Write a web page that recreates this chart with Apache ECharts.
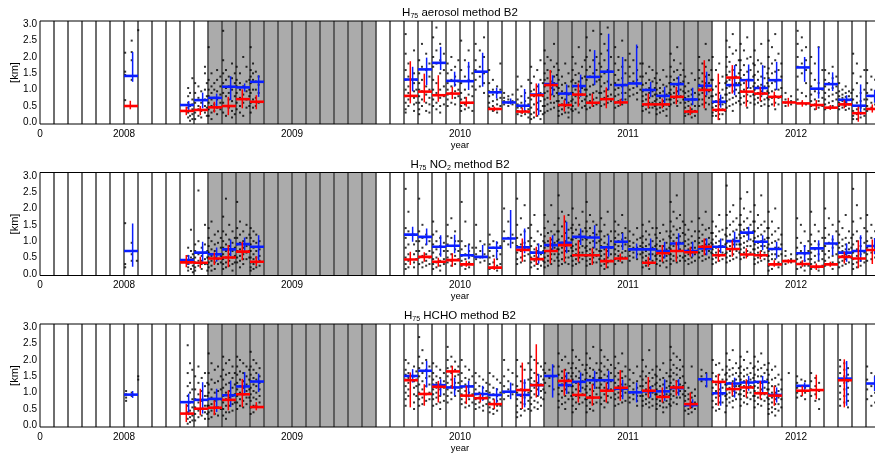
<!DOCTYPE html>
<html><head><meta charset="utf-8">
<script src="https://cdn.jsdelivr.net/npm/echarts@6/dist/echarts.min.js"></script>
<style>html,body{margin:0;padding:0;background:#fff}#c{width:875px;height:454px}</style>
</head><body><div id="c"></div>
<script>
// ---------------- data ----------------
const xTickValues = [2007.5, 2008, 2009, 2010, 2011, 2012];
const xTickLabels = ['0', '2008', '2009', '2010', '2011', '2012'];
const yTickValues = [0, 0.5, 1, 1.5, 2, 2.5, 3];
const yTickLabels = ['0.0', '0.5', '1.0', '1.5', '2.0', '2.5', '3.0'];
const shadedPeriods = [[2008.5, 2009.5], [2010.5, 2011.5]];

const aerosolMonths = ['2008-01','2008-05','2008-06','2008-07','2008-08','2008-09','2008-10',
 '2009-09','2009-10','2009-11','2009-12',
 '2010-01','2010-02','2010-03','2010-04','2010-05','2010-06','2010-07','2010-08','2010-09','2010-10','2010-11','2010-12',
 '2011-01','2011-02','2011-03','2011-04','2011-05','2011-06','2011-07','2011-08','2011-09','2011-10','2011-11','2011-12',
 '2012-01','2012-02','2012-03','2012-04','2012-05','2012-06'];
const aerosolBlueMed = [1.42,0.53,0.68,0.75,1.09,1.07,1.24, 1.31,1.62,1.82,1.27, 1.26,1.55,0.92,0.61,0.51,0.85,1.17,0.88,1.11,1.39,1.55,1.14, 1.19,0.99,0.81,1.17,0.70,1.12,0.63,1.14,1.29,1.05,1.29,null, 1.68,1.03,1.17,0.69,0.51,0.81];
const aerosolBlueLo  = [1.24,0.38,0.43,0.50,0.68,0.94,0.78, 0.95,1.14,1.60,1.09, 0.99,1.09,0.73,0.55,0.33,0.22,0.83,0.53,0.78,1.14,0.99,0.63, 1.09,0.78,0.53,0.83,0.53,0.83,0.45,0.83,1.04,0.83,0.99,null, 1.24,0.73,0.96,0.53,0.22,0.60];
const aerosolBlueHi  = [2.15,0.65,0.91,0.88,1.41,1.19,1.44, 1.70,1.98,2.31,1.55, 1.85,2.13,1.06,0.73,1.02,1.19,1.44,1.16,1.46,2.21,2.71,2.00, 2.38,1.24,1.09,1.41,1.06,1.55,0.85,1.75,1.77,1.75,1.85,null, 2.00,2.31,1.53,0.83,1.16,1.00];
const aerosolRedMed  = [0.50,0.35,0.38,0.46,0.50,0.71,0.63, 0.81,0.94,0.83,0.88, 0.60,null,0.41,null,0.33,0.83,1.14,0.53,0.85,0.60,0.71,0.61, null,0.55,0.55,0.78,0.33,0.99,0.38,1.37,0.94,0.88,0.78,0.61, 0.58,0.53,0.45,0.55,0.28,0.41];
const aerosolRedLo   = [0.40,0.22,0.22,0.30,0.22,0.43,0.40, 0.58,0.61,0.63,0.71, 0.48,null,0.34,null,0.26,0.17,0.68,0.33,0.48,0.48,0.43,0.50, null,0.43,0.43,0.55,0.22,0.43,0.07,0.88,0.48,0.65,0.48,0.48, 0.48,0.38,0.38,0.43,0.02,0.30];
const aerosolRedHi   = [0.66,0.48,0.50,0.63,0.78,1.01,0.83, 1.87,1.49,1.44,1.09, 0.78,null,0.48,null,0.45,1.19,1.60,0.68,1.19,0.88,1.07,0.72, null,0.88,0.73,1.09,0.48,1.90,1.49,1.75,1.29,1.09,0.94,0.75, 0.68,0.68,0.53,0.68,0.48,0.55];

const no2Months = aerosolMonths.slice();
const no2BlueMed = [0.70,0.42,0.65,0.60,0.75,0.91,0.83, 1.20,1.13,0.83,0.86, 0.57,0.52,0.80,1.08,0.81,0.65,0.88,0.95,1.13,1.11,0.81,0.98, 0.75,0.75,0.70,0.93,0.70,0.78,0.83,1.00,1.26,0.98,0.76,null, 0.63,0.78,0.93,0.65,0.70,0.85];
const no2BlueLo  = [0.22,0.27,0.37,0.37,0.54,0.68,0.42, 0.98,0.88,0.52,0.63, 0.45,0.47,0.47,0.78,0.63,0.32,0.68,0.63,0.88,0.78,0.52,0.73, 0.47,0.42,0.47,0.68,0.52,0.57,0.63,0.78,1.03,0.73,0.47,null, 0.37,0.42,0.57,0.37,0.37,0.60];
const no2BlueHi  = [1.54,0.58,0.98,0.81,1.05,1.11,1.18, 1.44,1.39,1.18,1.20, 0.90,0.88,1.00,1.95,1.39,0.93,1.18,1.59,1.39,1.49,1.18,1.24, 0.93,1.08,0.98,1.24,0.98,1.08,1.08,1.29,1.44,1.18,0.98,null, 0.88,1.03,1.18,0.93,1.18,1.10];
const no2RedMed  = [null,0.35,0.34,0.47,0.50,0.68,0.37, 0.44,0.52,0.37,0.42, 0.29,null,0.19,null,0.73,0.45,0.70,0.88,0.57,0.57,0.39,0.47, null,0.34,0.63,0.70,0.66,0.83,0.57,0.76,0.59,0.57,0.29,0.39, 0.30,0.22,0.29,0.52,0.47,0.73];
const no2RedLo   = [null,0.20,0.17,0.27,0.20,0.42,0.24, 0.27,0.37,0.22,0.22, 0.22,null,0.12,null,0.37,0.27,0.32,0.37,0.37,0.27,0.17,0.37, null,0.22,0.37,0.37,0.52,0.57,0.37,0.52,0.47,0.45,0.22,0.32, 0.22,0.12,0.22,0.32,0.17,0.30];
const no2RedHi   = [null,0.58,0.52,0.65,0.88,0.98,0.54, 0.68,0.66,0.49,0.63, 0.40,null,0.47,null,1.08,0.83,1.13,1.79,1.03,0.78,0.78,0.62, null,0.52,0.88,0.98,0.83,1.08,0.78,1.03,0.78,0.71,0.42,0.45, 0.42,0.32,0.37,0.68,1.03,1.05];

const hchoMonths = ['2008-01','2008-05','2008-06','2008-07','2008-08','2008-09','2008-10',
 '2009-09','2009-10','2009-11','2009-12',
 '2010-01','2010-02','2010-03','2010-04','2010-05','2010-06','2010-07','2010-08','2010-09','2010-10','2010-11','2010-12',
 '2011-01','2011-02','2011-03','2011-04','2011-05','2011-06','2011-07','2011-08','2011-09','2011-10','2011-11',
 '2012-01','2012-02','2012-04','2012-06'];
const hchoBlueMed = [0.94,0.71,0.78,0.81,0.92,1.19,1.34, 1.51,1.67,1.23,1.16, 1.19,0.96,0.93,1.03,0.93,1.23,1.51,1.23,1.33,1.38,1.38,1.12, 1.01,1.04,1.04,1.14,0.62,1.41,0.98,1.28,1.31,1.33,0.93, 1.21,null,1.43,1.28];
const hchoBlueLo  = [0.84,0.31,0.36,0.41,0.56,0.92,1.02, 1.31,1.16,0.91,0.91, 0.85,0.75,0.67,0.80,0.55,0.91,0.85,0.96,1.01,1.11,1.06,0.80, 0.70,0.85,0.75,0.91,0.55,1.16,0.60,0.85,1.06,1.01,0.70, 1.06,null,0.60,1.05];
const hchoBlueHi  = [1.05,0.97,1.32,1.12,1.37,1.63,1.58, 1.72,1.97,1.41,1.46, 1.36,1.21,1.14,1.31,1.41,1.57,1.87,1.62,1.62,1.67,1.67,1.40, 1.31,1.20,1.41,1.41,0.80,1.59,1.31,1.46,1.51,1.51,1.16, 1.31,null,1.97,1.50];
const hchoRedMed  = [null,0.36,0.51,0.54,0.78,0.95,0.56, 1.38,0.96,1.18,1.65, 0.91,0.83,0.65,null,1.08,1.23,null,1.36,0.93,0.85,1.06,1.15, null,1.06,0.87,1.16,0.65,null,1.33,1.11,1.16,0.98,0.91, 1.06,1.08,1.38,null];
const hchoRedLo   = [null,0.10,0.31,0.31,0.46,0.56,0.46, 0.55,0.60,0.70,1.11, 0.65,0.70,0.50,null,0.50,0.85,null,0.91,0.70,0.60,0.70,0.75, null,0.85,0.70,0.91,0.50,null,0.60,0.91,0.85,0.80,0.60, 0.90,0.80,0.55,null];
const hchoRedHi   = [null,0.66,1.12,0.76,1.07,1.42,0.71, 1.62,1.26,1.36,1.82, 1.21,0.96,0.80,null,1.92,2.48,null,1.72,1.31,1.26,1.31,1.69, null,1.48,1.16,1.38,1.01,null,1.57,1.31,1.41,1.36,1.21, 1.20,1.55,2.02,null];

// individual retrievals: [month, "day:values;day:values"]
const aerosolDots = [
 ['2008-01','3:2.13,1.55,1.45,0.68,0.5;17:2.5,2.15,1.9,1.3'],['2008-02','1:2.82'],
 ['2008-05','18:1.05,0.8,0.6,0.45,0.3,0.15;22:0.9,0.5,0.35,0.2,0.05;27:1.35,0.7,0.55,0.4,0.25,0.1'],
 ['2008-06','3:1.2,0.9,0.6,0.3,0.1;10:1.1,0.75,0.5,0.4,0.2;16:0.95,0.6,0.35,0.15;24:1.7,1.5,1.0,0.7,0.5,0.3;28:1.2,0.8,0.45,0.2'],
 ['2008-07','2:2.3,1.3,1.0,0.8,0.6,0.4,0.2;8:1.5,1.1,0.9,0.7,0.5,0.3,0.1;14:1.2,1.0,0.75,0.55,0.35;20:1.6,1.3,0.95,0.7,0.45,0.25;27:1.4,1.1,0.85,0.6,0.4'],
 ['2008-08','3:2.8,1.9,1.5,1.2,0.9,0.6,0.3;9:1.6,1.3,1.05,0.8,0.5,0.2;15:1.4,1.1,0.9,0.7,0.45;22:1.8,1.35,1.0,0.65,0.35,0.15;28:1.5,1.2,0.8,0.5,0.25'],
 ['2008-09','2:1.7,1.3,1.1,0.9,0.6,0.4;9:1.5,1.2,1.0,0.75,0.5,0.3;16:2.0,1.1,0.85,0.6,0.2;23:1.7,1.25,0.95,0.7,0.45;29:1.3,1.0,0.8,0.5'],
 ['2008-10','2:2.3,1.6,1.4,1.2,0.9,0.6,0.3;7:1.8,1.5,1.3,1.0,0.7,0.45;13:1.55,1.25,1.0,0.75,0.5;19:1.4,1.15,0.9,0.6'],
 ['2009-09','4:2.7,2.1,1.6,1.3,1.0,0.8,0.6,0.4,0.3;10:1.8,1.4,1.1,0.9,0.7,0.5;22:2.2,1.5,1.2,0.95,0.75,0.55,0.35;27:1.3,1.0,0.8,0.6'],
 ['2009-10','3:1.9,1.5,1.2,1.0,0.8,0.6,0.4,0.25;9:2.4,1.7,1.3,0.95,0.7,0.5;18:2.1,1.6,1.1,0.85,0.6,0.35;25:1.8,1.4,1.0,0.75,0.55,0.3'],
 ['2009-11','3:2.6,2.0,1.7,1.3,1.0,0.7,0.5;10:2.9,2.2,1.8,1.2,0.9,0.6,0.4;18:2.4,1.9,1.5,1.0,0.75,0.5,0.3;26:2.1,1.6,1.1,0.8,0.55'],
 ['2009-12','4:1.8,1.5,1.2,1.0,0.85,0.7,0.5;12:2.0,1.6,1.3,1.1,0.9,0.6;20:1.7,1.4,1.15,0.95,0.75,0.55;27:1.9,1.25,1.0,0.8'],
 ['2010-01','3:2.5,1.6,1.2,0.9,0.7,0.5,0.35;11:1.9,1.4,1.0,0.75,0.55,0.4;19:2.2,1.7,1.3,0.85,0.6,0.45;27:1.5,1.1,0.8,0.6,0.35'],
 ['2010-02','4:2.4,1.9,1.6,1.3,1.0;13:2.2,1.7,1.4,1.1;22:2.6,2.0,1.5,1.2,0.9'],
 ['2010-03','3:1.6,1.2,0.95,0.8,0.6,0.45;11:1.3,1.0,0.85,0.65,0.5,0.35;20:1.1,0.9,0.7,0.55,0.4,0.3;27:1.8,1.0,0.75,0.5'],
 ['2010-04','5:0.9,0.75,0.65,0.55;14:0.8,0.7,0.6,0.5;23:0.85,0.65,0.55'],
 ['2010-05','4:1.4,1.0,0.7,0.55,0.45,0.35,0.25;12:1.1,0.8,0.6,0.45,0.3,0.2;20:0.9,0.65,0.5,0.35,0.25;27:1.3,0.75,0.55,0.4,0.3,0.15'],
 ['2010-06','3:1.7,1.2,0.95,0.7,0.45,0.25,0.1;9:1.4,1.0,0.8,0.55,0.3,0.15;16:1.6,1.1,0.85,0.6,0.4,0.2;23:1.9,1.3,0.9,0.65,0.35,0.1;28:1.2,0.8,0.5,0.25'],
 ['2010-07','2:2.2,1.8,1.5,1.3,1.1,0.9,0.7,0.5,0.3;8:2.0,1.6,1.35,1.15,0.95,0.75,0.55,0.35;15:1.9,1.55,1.25,1.05,0.85,0.6,0.4;22:2.4,1.7,1.4,1.2,1.0,0.8,0.6,0.45;28:1.8,1.45,1.1,0.9,0.65'],
 ['2010-08','2:1.6,1.3,1.05,0.85,0.65,0.5,0.35,0.2;9:1.4,1.15,0.95,0.75,0.55,0.4,0.25;16:1.8,1.2,0.9,0.7,0.5,0.3;23:1.5,1.1,0.85,0.6,0.45,0.3,0.15;29:1.25,0.9,0.65,0.4'],
 ['2010-09','2:2.0,1.6,1.3,1.1,0.9,0.7,0.5,0.35;8:1.8,1.45,1.2,1.0,0.8,0.6,0.4;15:2.3,1.5,1.25,0.95,0.75,0.55,0.3;22:1.7,1.35,1.05,0.85,0.65,0.45;28:1.9,1.4,1.0,0.7,0.5'],
 ['2010-10','2:2.6,2.0,1.6,1.3,1.0,0.8,0.6,0.4;9:2.2,1.7,1.4,1.1,0.85,0.65,0.45;16:2.8,1.9,1.5,1.15,0.9,0.7,0.5;23:2.0,1.6,1.25,0.95,0.75,0.55;29:1.8,1.3,0.9,0.6'],
 ['2010-11','3:2.7,2.1,1.7,1.4,1.1,0.9,0.7,0.5;10:2.4,1.9,1.5,1.2,0.95,0.75,0.55;17:2.9,2.2,1.6,1.25,1.0,0.8,0.6;24:2.0,1.55,1.15,0.85,0.65'],
 ['2010-12','3:2.3,1.8,1.45,1.2,1.0,0.8,0.6,0.45;10:2.0,1.6,1.3,1.05,0.85,0.65,0.5;18:2.5,1.7,1.35,1.1,0.9,0.7,0.55;25:1.9,1.5,1.15,0.9,0.7'],
 ['2011-01','4:2.1,1.7,1.4,1.2,1.0,0.8;12:1.9,1.5,1.25,1.05,0.85;20:2.3,1.6,1.3,1.1,0.9,0.7;27:1.8,1.4,1.0'],
 ['2011-02','2:1.8,1.4,1.15,0.95,0.8,0.65,0.5,0.35;9:1.5,1.2,1.0,0.85,0.7,0.55,0.4;16:1.7,1.3,1.05,0.9,0.75,0.6,0.45,0.3;23:1.6,1.25,0.95,0.8,0.6,0.45;28:1.35,1.05,0.85,0.65,0.5'],
 ['2011-03','2:1.5,1.2,1.0,0.85,0.7,0.55,0.4,0.25;9:1.3,1.05,0.9,0.75,0.6,0.45,0.3;16:1.6,1.15,0.95,0.8,0.65,0.5,0.35;23:1.4,1.1,0.85,0.7,0.55,0.4,0.2;29:1.2,0.9,0.7,0.5'],
 ['2011-04','2:2.1,1.7,1.4,1.2,1.0,0.85,0.7,0.55;9:1.9,1.55,1.3,1.1,0.9,0.75,0.6;16:2.3,1.6,1.35,1.15,0.95,0.8,0.65,0.5;23:1.8,1.45,1.2,1.0,0.8,0.6;29:1.6,1.25,0.95,0.7'],
 ['2011-05','3:1.4,1.1,0.9,0.75,0.6,0.45,0.3,0.2;10:1.2,0.95,0.8,0.65,0.5,0.35,0.25;17:1.5,1.0,0.85,0.7,0.55,0.4,0.3,0.15;24:1.3,0.9,0.7,0.5,0.35,0.2'],
 ['2011-06','3:2.0,1.6,1.35,1.15,1.0,0.85,0.7,0.5;10:1.8,1.5,1.25,1.05,0.9,0.7,0.55;17:2.4,1.7,1.4,1.2,1.0,0.8,0.6,0.4;24:1.9,1.45,1.2,0.95,0.75,0.55;29:1.6,1.3,1.0,0.8'],
 ['2011-07','2:2.0,1.3,1.0,0.8,0.6,0.45,0.3,0.2;9:1.6,1.1,0.85,0.65,0.5,0.35,0.2;16:1.8,1.2,0.9,0.7,0.55,0.4,0.25,0.1;23:1.4,1.0,0.75,0.55,0.4,0.25;29:1.2,0.85,0.6,0.35'],
 ['2011-08','2:2.5,2.0,1.7,1.45,1.25,1.05,0.85,0.65,0.45;8:2.3,1.85,1.55,1.3,1.1,0.9,0.7,0.5;15:2.7,2.1,1.6,1.35,1.15,0.95,0.75,0.55,0.35;22:2.2,1.75,1.4,1.2,1.0,0.8,0.6;28:1.9,1.5,1.2,0.9,0.65'],
 ['2011-09','2:2.4,1.9,1.6,1.35,1.15,0.95,0.75,0.55;9:2.2,1.75,1.45,1.2,1.0,0.8,0.6;16:2.6,1.95,1.55,1.3,1.05,0.85,0.65,0.45;23:2.0,1.6,1.3,1.05,0.8,0.6;29:1.8,1.4,1.1,0.85'],
 ['2011-10','2:2.2,1.75,1.45,1.2,1.0,0.85,0.7,0.55;9:1.9,1.55,1.3,1.1,0.9,0.75,0.6;16:2.4,1.8,1.4,1.15,0.95,0.8,0.65,0.5;23:1.7,1.35,1.1,0.9,0.7,0.55;29:1.5,1.2,0.95,0.75'],
 ['2011-11','2:2.5,2.0,1.65,1.35,1.1,0.9,0.7,0.5;9:2.3,1.8,1.5,1.2,0.95,0.75,0.55;16:2.7,1.9,1.55,1.25,1.0,0.8,0.6,0.4;23:2.1,1.6,1.3,1.0,0.75,0.55;29:1.8,1.4,1.05,0.8'],
 ['2011-12','8:0.9,0.7,0.6,0.5;20:0.8,0.65,0.55'],
 ['2012-01','4:2.8,2.4,2.0,1.7,1.4,1.0,0.7;13:2.6,2.2,1.8,1.5,0.9,0.6;22:2.3,1.9,1.6,1.2,0.8,0.55'],
 ['2012-02','3:2.0,1.5,1.1,0.85,0.65,0.5;11:1.8,1.3,0.95,0.7,0.55,0.4;19:2.3,1.2,0.9,0.65,0.45;27:1.6,1.0,0.75,0.5'],
 ['2012-03','3:1.6,1.3,1.1,0.9,0.7,0.55,0.4;11:1.5,1.2,1.0,0.8,0.6,0.45;19:1.7,1.35,1.05,0.85,0.65,0.5;27:1.4,1.1,0.9,0.7'],
 ['2012-04','3:1.2,0.95,0.8,0.7,0.6,0.5,0.4;10:1.0,0.85,0.75,0.65,0.55,0.45;17:1.1,0.9,0.78,0.62,0.5,0.38;24:0.95,0.8,0.68,0.55,0.42;29:0.9,0.7,0.55'],
 ['2012-05','3:2.1,1.5,1.0,0.7,0.5,0.35,0.2,0.1;11:1.8,1.2,0.8,0.6,0.4,0.25,0.1;19:1.4,0.9,0.65,0.45,0.3,0.15;27:1.6,1.0,0.7,0.4,0.2'],
 ['2012-06','3:1.6,1.2,0.9,0.7,0.5,0.35;12:1.4,1.0,0.8,0.6,0.45;20:1.3,0.95,0.75,0.55']
];
const no2Dots = [
 ['2008-01','3:1.55,0.3,0.2;17:0.95,0.6,0.4;28:0.4'],
 ['2008-05','18:0.8,0.55,0.4,0.3,0.2,0.1;24:1.35,0.7,0.5,0.35,0.15;28:0.6,0.45,0.25,0.05'],
 ['2008-06','3:0.9,0.7,0.5,0.35,0.2,0.1;10:2.55,1.0,0.6,0.4,0.25;17:0.8,0.55,0.4,0.3,0.15;24:1.5,0.9,0.65,0.45,0.3;29:0.7,0.5,0.3,0.1'],
 ['2008-07','2:1.4,1.1,0.85,0.65,0.5,0.35,0.2;8:1.6,1.0,0.75,0.55,0.4,0.25,0.1;15:1.2,0.9,0.7,0.5,0.35,0.15;22:1.3,0.95,0.6,0.45,0.3;28:1.1,0.8,0.55,0.35'],
 ['2008-08','3:1.75,1.3,1.0,0.8,0.6,0.45,0.3,0.15;9:2.3,1.2,0.9,0.7,0.5,0.35,0.2;16:1.5,1.05,0.85,0.6,0.4,0.25;23:1.3,0.95,0.7,0.5,0.3,0.1;28:1.1,0.8,0.55,0.35'],
 ['2008-09','3:2.2,1.4,1.1,0.9,0.7,0.5,0.35;9:1.6,1.2,0.95,0.75,0.55,0.4,0.2;16:1.3,1.0,0.8,0.6,0.45,0.3;23:1.5,1.1,0.85,0.65,0.45;29:1.2,0.9,0.7,0.5'],
 ['2008-10','2:1.4,1.1,0.9,0.7,0.5,0.35,0.2,0.1;8:1.3,1.0,0.8,0.6,0.45,0.3,0.15;14:1.2,0.95,0.7,0.5,0.35,0.2;21:1.0,0.75,0.55,0.4,0.25'],
 ['2009-09','4:2.6,1.4,1.1,0.8,0.5,0.3,0.15;10:1.9,1.3,0.9,0.6,0.4,0.2;22:1.2,0.9,0.6,0.35,0.2;27:1.0,0.7,0.45'],
 ['2009-10','3:2.3,1.3,1.0,0.7,0.5,0.3;10:1.5,1.1,0.8,0.55,0.35,0.2;18:1.2,0.9,0.6,0.4,0.25;25:1.0,0.7,0.5,0.3'],
 ['2009-11','3:1.6,1.2,0.9,0.65,0.45,0.3,0.15;10:1.3,1.0,0.75,0.5,0.35,0.2;18:1.1,0.85,0.6,0.4,0.25,0.1;26:0.95,0.7,0.45,0.3'],
 ['2009-12','4:1.5,1.15,0.9,0.7,0.5,0.35;12:1.7,1.1,0.85,0.6,0.4,0.25;20:1.3,1.0,0.75,0.55,0.3;27:1.0,0.7,0.45'],
 ['2010-01','4:2.2,1.0,0.75,0.55,0.4,0.25;12:1.6,0.85,0.6,0.45,0.3,0.15;20:0.9,0.7,0.5,0.35,0.2;27:0.8,0.55,0.3'],
 ['2010-02','5:1.5,0.8,0.6,0.45;14:1.0,0.7,0.5,0.35;23:0.9,0.6,0.4'],
 ['2010-03','4:1.2,0.9,0.7,0.5,0.3,0.15;12:1.0,0.8,0.55,0.35,0.2;20:0.95,0.7,0.45,0.25,0.1;27:0.85,0.6,0.3'],
 ['2010-04','5:2.0,1.3,1.0;14:1.6,1.1,0.9;23:1.2,0.95'],
 ['2010-05','3:2.3,1.5,1.1,0.85,0.65,0.45,0.3;11:1.7,1.2,0.9,0.7,0.5,0.35;19:2.1,1.3,0.95,0.75,0.55,0.4;27:1.4,1.0,0.8,0.6'],
 ['2010-06','3:1.5,1.1,0.85,0.65,0.5,0.35,0.2;10:1.8,1.0,0.75,0.55,0.4,0.25;17:1.3,0.9,0.7,0.5,0.3,0.15;24:1.2,0.85,0.6,0.45,0.25;29:1.0,0.7,0.4'],
 ['2010-07','2:1.8,1.4,1.15,0.95,0.8,0.65,0.5,0.35,0.2;9:1.6,1.25,1.0,0.85,0.7,0.55,0.4,0.25;16:2.1,1.3,1.05,0.9,0.75,0.6,0.45,0.3;23:1.5,1.2,0.95,0.8,0.6,0.4;29:1.3,1.0,0.75,0.5'],
 ['2010-08','2:2.4,1.7,1.3,1.05,0.9,0.75,0.6,0.4,0.25;9:1.9,1.45,1.15,0.95,0.8,0.65,0.45,0.3;16:1.6,1.25,1.0,0.85,0.7,0.5,0.35;23:1.8,1.35,1.1,0.9,0.7,0.5,0.3;29:1.4,1.05,0.8,0.55'],
 ['2010-09','2:2.0,1.5,1.25,1.05,0.85,0.7,0.55,0.4,0.25;9:1.7,1.35,1.1,0.9,0.75,0.6,0.45,0.3;16:1.5,1.2,1.0,0.8,0.65,0.5,0.35;23:1.9,1.3,1.05,0.85,0.65,0.45;29:1.4,1.1,0.8,0.55'],
 ['2010-10','2:2.2,1.6,1.3,1.05,0.85,0.7,0.55,0.4,0.25;9:1.8,1.4,1.15,0.95,0.75,0.6,0.45,0.3;16:1.6,1.25,1.0,0.8,0.65,0.5,0.35;23:1.5,1.2,0.95,0.75,0.55,0.35;29:1.3,1.0,0.7,0.45'],
 ['2010-11','3:1.7,1.3,1.05,0.85,0.7,0.55,0.4,0.25;10:1.5,1.15,0.95,0.75,0.6,0.45,0.3,0.15;17:1.9,1.2,0.9,0.7,0.5,0.35,0.2;24:1.3,1.0,0.8,0.6,0.4'],
 ['2010-12','3:1.6,1.3,1.1,0.9,0.75,0.6,0.45,0.3;10:1.5,1.2,1.0,0.85,0.7,0.55,0.4;18:1.8,1.25,1.05,0.85,0.65,0.5,0.35;25:1.4,1.1,0.9,0.7,0.5'],
 ['2011-01','4:1.3,1.0,0.85,0.7,0.55,0.4;12:1.2,0.95,0.8,0.65,0.5;20:1.4,1.05,0.8,0.6,0.45;27:1.1,0.85,0.6'],
 ['2011-02','2:1.5,1.15,0.95,0.8,0.65,0.5,0.35,0.2;9:1.3,1.05,0.85,0.7,0.55,0.4,0.25;16:1.6,1.2,0.9,0.75,0.6,0.45,0.3,0.15;23:1.4,1.0,0.8,0.6,0.4;29:1.2,0.85,0.55'],
 ['2011-03','2:1.4,1.1,0.9,0.75,0.6,0.45,0.3;9:1.25,1.0,0.85,0.7,0.55,0.4,0.25;16:1.5,1.05,0.85,0.65,0.5,0.35;23:1.3,0.95,0.75,0.55,0.4,0.2;29:1.15,0.8,0.6'],
 ['2011-04','2:2.2,1.6,1.3,1.1,0.9,0.75,0.6,0.45,0.3;8:1.9,1.45,1.2,1.0,0.85,0.7,0.55,0.4;15:2.4,1.7,1.35,1.1,0.9,0.7,0.5,0.35;22:1.8,1.4,1.15,0.95,0.75,0.55,0.4;28:1.6,1.25,0.95,0.7,0.5'],
 ['2011-05','3:1.5,1.2,1.0,0.85,0.7,0.55,0.4;10:1.35,1.05,0.9,0.75,0.6,0.45,0.3;17:1.6,1.15,0.95,0.8,0.65,0.5,0.35;24:1.3,1.0,0.8,0.6,0.4'],
 ['2011-06','3:1.7,1.3,1.1,0.95,0.8,0.65,0.5;10:1.5,1.2,1.0,0.85,0.7,0.55,0.4;17:1.9,1.35,1.05,0.9,0.75,0.6,0.45;24:1.4,1.1,0.9,0.7,0.5;29:1.25,0.95,0.65'],
 ['2011-07','2:1.6,1.25,1.05,0.9,0.75,0.6,0.45,0.3;9:1.45,1.15,0.95,0.8,0.65,0.5,0.35;16:1.8,1.3,1.0,0.85,0.7,0.55,0.4;23:1.35,1.05,0.85,0.65,0.45;29:1.2,0.9,0.6'],
 ['2011-08','2:2.7,1.8,1.4,1.15,0.95,0.8,0.65,0.5,0.35;9:1.9,1.5,1.2,1.0,0.85,0.7,0.55,0.4;16:2.1,1.6,1.3,1.05,0.9,0.75,0.6,0.45;23:1.7,1.35,1.1,0.9,0.7,0.5;29:1.5,1.2,0.9,0.65'],
 ['2011-09','2:2.3,1.8,1.5,1.3,1.1,0.9,0.75,0.6,0.45;9:2.0,1.6,1.35,1.15,0.95,0.8,0.65,0.5;16:2.5,1.7,1.4,1.2,1.0,0.85,0.7,0.55;23:1.9,1.5,1.25,1.05,0.85,0.65;29:1.6,1.3,1.0,0.75'],
 ['2011-10','2:2.1,1.6,1.3,1.1,0.9,0.75,0.6,0.45,0.3;9:1.8,1.4,1.15,0.95,0.8,0.65,0.5,0.35;16:2.4,1.5,1.2,1.0,0.85,0.7,0.55,0.4;23:1.6,1.3,1.05,0.85,0.65,0.45;29:1.4,1.1,0.8,0.55'],
 ['2011-11','2:1.9,1.4,1.1,0.9,0.7,0.55,0.4,0.25,0.1;9:1.6,1.2,0.95,0.75,0.6,0.45,0.3,0.15;16:2.0,1.3,1.0,0.8,0.6,0.45,0.3;23:1.4,1.05,0.8,0.55,0.35,0.2;29:1.2,0.9,0.6,0.3'],
 ['2011-12','8:0.7,0.55,0.4,0.3;20:0.6,0.45,0.35'],
 ['2012-01','3:1.7,1.1,0.8,0.6,0.45,0.3,0.15;11:1.5,0.95,0.7,0.5,0.35,0.2;19:1.3,0.85,0.6,0.4,0.25,0.1;27:1.0,0.7,0.45,0.25'],
 ['2012-02','3:1.9,1.2,0.9,0.65,0.45,0.3,0.15;11:1.5,1.0,0.75,0.55,0.35,0.2;19:1.3,0.9,0.6,0.4,0.2,0.1;27:1.1,0.7,0.45,0.25'],
 ['2012-03','3:2.0,1.4,1.1,0.85,0.6,0.4,0.25;11:1.7,1.2,0.95,0.7,0.5,0.3;19:1.5,1.05,0.8,0.55,0.35,0.15;27:1.3,0.9,0.6,0.3'],
 ['2012-04','3:1.6,1.2,0.95,0.8,0.65,0.5,0.35,0.2;10:1.4,1.05,0.85,0.7,0.55,0.4,0.25;17:1.8,1.1,0.9,0.75,0.6,0.45,0.3;24:1.3,0.95,0.75,0.55,0.35;29:1.1,0.8,0.5'],
 ['2012-05','3:2.6,1.6,1.2,0.9,0.65,0.45,0.3,0.15;11:2.1,1.3,1.0,0.75,0.55,0.35,0.2;19:1.7,1.1,0.85,0.6,0.4,0.25;27:1.4,0.95,0.65,0.35'],
 ['2012-06','3:1.8,1.3,1.0,0.8,0.6,0.4;12:1.5,1.1,0.85,0.65,0.45;20:1.3,0.95,0.7,0.5']
];
const hchoDots = [
 ['2008-01','5:1.05,0.95,0.85,0.75;17:1.0,0.9'],['2008-02','1:1.5,1.4'],
 ['2008-05','17:2.45,1.6,1.2,0.9,0.6,0.4,0.2,0.05;22:1.9,1.3,1.0,0.7,0.45,0.25,0.1;27:1.7,1.1,0.8,0.55,0.3,0.15'],
 ['2008-06','3:1.5,1.1,0.8,0.55,0.35,0.15;10:1.8,1.3,0.95,0.7,0.45,0.25;17:1.45,1.05,0.75,0.5,0.3;24:1.6,1.2,0.9,0.6,0.4,0.2;29:1.3,0.9,0.6,0.35'],
 ['2008-07','2:2.2,1.6,1.25,1.0,0.8,0.6,0.4,0.2;8:1.9,1.4,1.1,0.85,0.65,0.45,0.25;15:1.7,1.3,1.0,0.75,0.55,0.35;22:1.8,1.35,1.05,0.8,0.55,0.3;28:1.5,1.1,0.8,0.5'],
 ['2008-08','3:2.1,1.7,1.4,1.15,0.9,0.7,0.5,0.3;9:1.9,1.55,1.25,1.0,0.8,0.6,0.4,0.2;16:2.0,1.6,1.3,1.05,0.85,0.6,0.4;23:1.8,1.45,1.15,0.9,0.65,0.45;28:1.6,1.25,0.95,0.7'],
 ['2008-09','3:2.1,1.8,1.55,1.3,1.1,0.9,0.7,0.5;9:2.0,1.65,1.4,1.2,1.0,0.8,0.6;16:1.9,1.6,1.35,1.15,0.95,0.75,0.55;23:1.8,1.5,1.25,1.05,0.85,0.65;29:1.7,1.4,1.1,0.85'],
 ['2008-10','2:2.25,1.8,1.55,1.35,1.15,0.95,0.75,0.55,0.35;8:2.0,1.7,1.45,1.25,1.05,0.85,0.6,0.4;14:1.9,1.6,1.4,1.2,1.0,0.8,0.6;21:1.75,1.5,1.3,1.1,0.9,0.7'],
 ['2009-09','4:2.0,1.7,1.55,1.4,1.2,1.0,0.8,0.6;10:1.9,1.6,1.45,1.3,1.1,0.9;22:1.8,1.5,1.35,1.15,0.95,0.7,0.5;27:1.65,1.4,1.2,0.9'],
 ['2009-10','3:2.7,2.1,1.75,1.5,1.25,1.0,0.8,0.6;10:2.3,1.9,1.6,1.35,1.1,0.85,0.65;18:2.0,1.7,1.45,1.2,0.95,0.75;25:1.8,1.5,1.25,1.0,0.8'],
 ['2009-11','3:1.9,1.6,1.4,1.25,1.1,0.95,0.8,0.6;10:1.8,1.5,1.3,1.15,1.0,0.85,0.65;18:1.7,1.45,1.25,1.1,0.9,0.7,0.5;26:1.6,1.35,1.15,0.95,0.75'],
 ['2009-12','4:2.4,2.0,1.75,1.5,1.3,1.1,0.9,0.7;12:2.1,1.8,1.6,1.4,1.2,1.0,0.8;20:1.95,1.7,1.5,1.3,1.1,0.9;27:1.8,1.55,1.3,1.05'],
 ['2010-01','4:2.0,1.6,1.35,1.15,0.95,0.8,0.65;12:1.8,1.45,1.25,1.05,0.9,0.7,0.55;20:1.7,1.4,1.2,1.0,0.8,0.6;27:1.5,1.2,0.95,0.7'],
 ['2010-02','4:1.6,1.3,1.1,0.95,0.8,0.65,0.5;12:1.5,1.2,1.0,0.85,0.7,0.55;20:1.4,1.15,0.95,0.8,0.6,0.45;27:1.3,1.05,0.85,0.65'],
 ['2010-03','4:1.6,1.25,1.0,0.85,0.7,0.55,0.4;12:1.5,1.15,0.95,0.8,0.65,0.5,0.35;20:1.4,1.1,0.9,0.75,0.6,0.45;27:1.3,1.0,0.8,0.6'],
 ['2010-04','5:2.0,1.5,1.2,1.0,0.8;14:1.7,1.35,1.1,0.9;23:1.6,1.25,0.95'],
 ['2010-05','3:2.0,1.5,1.2,1.0,0.8,0.6,0.4,0.25;11:1.8,1.35,1.1,0.9,0.7,0.5,0.3;19:1.7,1.3,1.05,0.85,0.65,0.45;27:1.9,1.4,1.0,0.75,0.5'],
 ['2010-06','3:2.1,1.7,1.45,1.25,1.05,0.85,0.65,0.45;10:2.0,1.6,1.35,1.15,0.95,0.75,0.55;17:1.9,1.55,1.3,1.1,0.9,0.7,0.5;24:1.8,1.5,1.25,1.05,0.85,0.6;29:1.7,1.4,1.1,0.8'],
 ['2010-07','3:1.9,1.6,1.3,1.0;12:1.7,1.45,1.2;21:1.8,1.5,1.1'],
 ['2010-08','2:2.2,1.8,1.55,1.35,1.15,0.95,0.75,0.55;9:2.0,1.65,1.45,1.25,1.05,0.85,0.65;16:2.1,1.7,1.5,1.3,1.1,0.9,0.7,0.5;23:1.9,1.6,1.4,1.2,1.0,0.8;29:1.75,1.5,1.2,0.9'],
 ['2010-09','2:2.3,1.9,1.6,1.4,1.2,1.0,0.8,0.6,0.4;9:2.1,1.75,1.5,1.3,1.1,0.9,0.7,0.5;16:2.0,1.65,1.45,1.25,1.05,0.85,0.65;23:1.85,1.55,1.35,1.15,0.95,0.7;29:1.7,1.4,1.1,0.8'],
 ['2010-10','2:2.2,1.85,1.6,1.4,1.2,1.0,0.8,0.6,0.4;9:2.05,1.75,1.5,1.3,1.1,0.9,0.7,0.5;16:2.4,1.7,1.45,1.25,1.05,0.85,0.65,0.45;23:1.9,1.6,1.35,1.15,0.95,0.7;29:1.7,1.45,1.15,0.85'],
 ['2010-11','3:2.3,1.9,1.65,1.45,1.25,1.05,0.85,0.65;10:2.1,1.8,1.55,1.35,1.15,0.95,0.75,0.55;17:2.0,1.7,1.5,1.3,1.1,0.9,0.7;24:1.85,1.6,1.35,1.1,0.85'],
 ['2010-12','3:2.1,1.75,1.5,1.3,1.1,0.95,0.8,0.6;10:1.9,1.6,1.4,1.2,1.0,0.85,0.65;18:2.2,1.65,1.45,1.25,1.05,0.9,0.7;25:1.8,1.5,1.25,1.0,0.75'],
 ['2011-01','4:1.7,1.4,1.2,1.0,0.85,0.7;12:1.6,1.3,1.1,0.95,0.8;20:1.8,1.35,1.15,0.9,0.75,0.6;27:1.5,1.2,0.9'],
 ['2011-02','2:2.0,1.65,1.4,1.2,1.05,0.9,0.75,0.6;9:1.8,1.5,1.3,1.1,0.95,0.8,0.65;16:2.3,1.6,1.35,1.15,1.0,0.85,0.7,0.55;23:1.7,1.45,1.2,1.0,0.8,0.6;29:1.55,1.25,0.95'],
 ['2011-03','2:1.8,1.5,1.3,1.1,0.95,0.8,0.65,0.5;9:1.7,1.4,1.2,1.05,0.9,0.75,0.6;16:1.9,1.45,1.25,1.05,0.9,0.7,0.55,0.4;23:1.6,1.35,1.15,0.95,0.75,0.55;29:1.5,1.2,0.9,0.65'],
 ['2011-04','2:2.4,2.0,1.7,1.5,1.3,1.1,0.95,0.8,0.6;8:2.2,1.85,1.6,1.4,1.2,1.05,0.9,0.7;15:2.1,1.75,1.55,1.35,1.15,1.0,0.85,0.65;22:2.0,1.7,1.45,1.25,1.05,0.85;28:1.8,1.5,1.2,0.95'],
 ['2011-05','3:1.3,1.05,0.9,0.75,0.6,0.45;10:1.15,0.95,0.8,0.65,0.5,0.35;17:1.8,1.0,0.85,0.7,0.55,0.4;24:1.1,0.9,0.7,0.5'],
 ['2011-06','8:1.7,1.5,1.35;18:1.6,1.4,1.2'],
 ['2011-07','2:2.0,1.6,1.35,1.15,0.95,0.75,0.55;9:1.85,1.5,1.25,1.05,0.85,0.65,0.45;16:1.9,1.55,1.3,1.1,0.9,0.7,0.5;23:1.7,1.4,1.15,0.95,0.7;29:1.55,1.25,0.9,0.4'],
 ['2011-08','2:2.2,1.8,1.6,1.4,1.25,1.1,0.95,0.8,0.6;8:2.0,1.7,1.5,1.3,1.15,1.0,0.85,0.7;15:2.3,1.75,1.55,1.35,1.2,1.05,0.9,0.75,0.55;22:1.9,1.6,1.4,1.2,1.0,0.8;28:1.75,1.5,1.2,0.95'],
 ['2011-09','2:2.1,1.8,1.6,1.4,1.25,1.1,0.95,0.8,0.6;9:2.0,1.7,1.5,1.35,1.2,1.05,0.9,0.7;16:2.25,1.75,1.55,1.35,1.15,1.0,0.85,0.65;23:1.9,1.6,1.4,1.2,1.0,0.8;29:1.75,1.45,1.15,0.9'],
 ['2011-10','2:2.1,1.8,1.55,1.35,1.2,1.05,0.9,0.75,0.55;9:1.95,1.7,1.5,1.3,1.15,1.0,0.85,0.65;16:2.2,1.75,1.5,1.3,1.1,0.95,0.8,0.6;23:1.85,1.6,1.35,1.15,0.95,0.75;29:1.7,1.4,1.1,0.85'],
 ['2011-11','2:1.9,1.55,1.3,1.1,0.95,0.8,0.65,0.5,0.35;9:1.7,1.4,1.2,1.0,0.85,0.7,0.55,0.4;16:1.8,1.45,1.2,1.0,0.8,0.65,0.5,0.3;23:1.55,1.25,1.05,0.85,0.65,0.45;29:1.4,1.1,0.8,0.55'],
 ['2011-12','15:1.6'],
 ['2012-01','3:1.5,1.3,1.15,1.0,0.85;12:1.4,1.2,1.05,0.9;20:1.35,1.15,1.0,0.8'],
 ['2012-02','3:1.6,1.35,1.1,0.9;12:1.45,1.2,0.95,0.75;20:1.3,1.05,0.8,0.5'],
 ['2012-04','5:2.0,1.8,1.6,1.4,1.2,1.0,0.8,0.6;14:1.9,1.7,1.5,1.3,1.1,0.9,0.7;22:1.75,1.55,1.35,1.15,0.95,0.75,0.55'],
 ['2012-06','3:1.8,1.4,1.1,0.8;12:1.6,1.2,0.9,0.6;20:1.5,1.0,0.7']
];

// ---------------- helpers ----------------
function monthStart(key) { const p = key.split('-').map(Number); return p[0] + (p[1] - 1) / 12; }
function dateVal(key, day) { return monthStart(key) + (day - 0.5) / 30 / 12; }
function crossData(months, med, lo, hi, day) {
  const out = [];
  months.forEach((k, i) => {
    if (med[i] == null) return;
    const s = monthStart(k);
    out.push([s, s + 1 / 12, med[i], lo[i], hi[i], dateVal(k, day)]);
  });
  return out;
}
function dotData(list) {
  const out = [];
  list.forEach(([k, str]) => {
    str.split(';').forEach(g => {
      const [d, vs] = g.split(':');
      vs.split(',').forEach(v => out.push([dateVal(k, +d), +v]));
    });
  });
  return out;
}

const FONT = '"Liberation Sans", Arial, Helvetica, sans-serif';
const XMIN = 2007.5, XMAX = 2012.5, YMIN = -0.05, YMAX = 3.1;
const gridTops = [21, 172.5, 324];
const GH = 103;
const titles = [
  '{h|H}{s|75}{h| aerosol method B2}',
  '{h|H}{s|75}{h| NO}{s|2}{h| method B2}',
  '{h|H}{s|75}{h| HCHO method B2}'
];
const panels = [
  {months: aerosolMonths, bm: aerosolBlueMed, bl: aerosolBlueLo, bh: aerosolBlueHi, rm: aerosolRedMed, rl: aerosolRedLo, rh: aerosolRedHi, dots: aerosolDots},
  {months: no2Months, bm: no2BlueMed, bl: no2BlueLo, bh: no2BlueHi, rm: no2RedMed, rl: no2RedLo, rh: no2RedHi, dots: no2Dots},
  {months: hchoMonths, bm: hchoBlueMed, bl: hchoBlueLo, bh: hchoBlueHi, rm: hchoRedMed, rl: hchoRedLo, rh: hchoRedHi, dots: hchoDots}
];

const monthBounds = [];
for (let i = 1; i < 60; i++) monthBounds.push([XMIN + i / 12]);

const grid = [], xAxis = [], yAxis = [], series = [], graphic = [];
panels.forEach((p, gi) => {
  grid.push({left: 40, top: gridTops[gi], width: 840, height: GH, containLabel: false, outerBoundsMode: 'none',
    show: true, borderColor: '#000', borderWidth: 1, backgroundColor: 'transparent', z: 10});
  xAxis.push({
    gridIndex: gi, type: 'value', min: XMIN, max: XMAX,
    axisLine: {show: false}, axisTick: {show: false}, splitLine: {show: false},
    axisLabel: {customValues: xTickValues, formatter: v => xTickLabels[xTickValues.indexOf(v)] || '', color: '#000', fontFamily: FONT, fontSize: 10, margin: 5},
    name: 'year', nameLocation: 'middle', nameGap: 16, nameMoveOverlap: false,
    nameTextStyle: {color: '#000', fontFamily: FONT, fontSize: 9.5}
  });
  yAxis.push({
    gridIndex: gi, type: 'value', min: YMIN, max: YMAX,
    axisLine: {show: false}, axisTick: {show: false}, splitLine: {show: false},
    axisLabel: {customValues: yTickValues, formatter: v => yTickLabels[yTickValues.indexOf(v)] || '', color: '#000', fontFamily: FONT, fontSize: 10, margin: 3},
    name: '[km]', nameLocation: 'middle', nameGap: 20, nameRotate: 90, nameMoveOverlap: false,
    nameTextStyle: {color: '#000', fontFamily: FONT, fontSize: 11}
  });
  series.push({
    type: 'custom', xAxisIndex: gi, yAxisIndex: gi, z: 1, silent: true, clip: true,
    data: shadedPeriods,
    renderItem: (params, api) => {
      const a = api.coord([api.value(0), YMAX]);
      const b = api.coord([api.value(1), YMIN]);
      return {type: 'rect', shape: {x: a[0], y: a[1], width: b[0] - a[0], height: b[1] - a[1]}, style: {fill: '#ababab'}};
    }
  });
  series.push({
    type: 'custom', xAxisIndex: gi, yAxisIndex: gi, z: 2, silent: true, clip: true,
    data: monthBounds,
    renderItem: (params, api) => {
      const a = api.coord([api.value(0), YMAX]);
      const b = api.coord([api.value(0), YMIN]);
      return {type: 'line', shape: {x1: a[0], y1: a[1], x2: b[0], y2: b[1]}, style: {stroke: '#4a4a4a', lineWidth: 1.6}};
    }
  });
  series.push({
    type: 'scatter', xAxisIndex: gi, yAxisIndex: gi, z: 3, silent: true,
    symbol: 'rect', symbolSize: 2, itemStyle: {color: '#000'},
    data: dotData(p.dots)
  });
  const crossSeries = (data, color) => ({
    type: 'custom', xAxisIndex: gi, yAxisIndex: gi, z: 4, silent: true, clip: true,
    data: data,
    renderItem: (params, api) => {
      const s = api.coord([api.value(0), api.value(2)]);
      const e = api.coord([api.value(1), api.value(2)]);
      const lo = api.coord([api.value(5), api.value(3)]);
      const hi = api.coord([api.value(5), api.value(4)]);
      return {type: 'group', children: [
        {type: 'line', shape: {x1: lo[0], y1: lo[1], x2: hi[0], y2: hi[1]}, style: {stroke: color, lineWidth: 1.5}},
        {type: 'line', shape: {x1: s[0], y1: s[1], x2: e[0], y2: e[1]}, style: {stroke: color, lineWidth: 2.6}}
      ]};
    }
  });
  series.push(crossSeries(crossData(p.months, p.bm, p.bl, p.bh, 19), '#0a1eff'));
  series.push(crossSeries(crossData(p.months, p.rm, p.rl, p.rh, 14), '#ff0000'));
  graphic.push({
    type: 'text', x: 460, y: gridTops[gi] - 8, z: 20,
    style: {
      text: titles[gi], align: 'center', verticalAlign: 'middle',
      rich: {
        h: {fontFamily: FONT, fontSize: 11.5, fill: '#000', color: '#000'},
        s: {fontFamily: FONT, fontSize: 7, fill: '#000', color: '#000', padding: [7, 0, 0, 0]}
      }
    }
  });
});

const chart = echarts.init(document.getElementById('c'), null, {renderer: 'canvas'});
chart.setOption({animation: false, backgroundColor: '#fff', grid, xAxis, yAxis, series, graphic});
</script>
</body></html>
